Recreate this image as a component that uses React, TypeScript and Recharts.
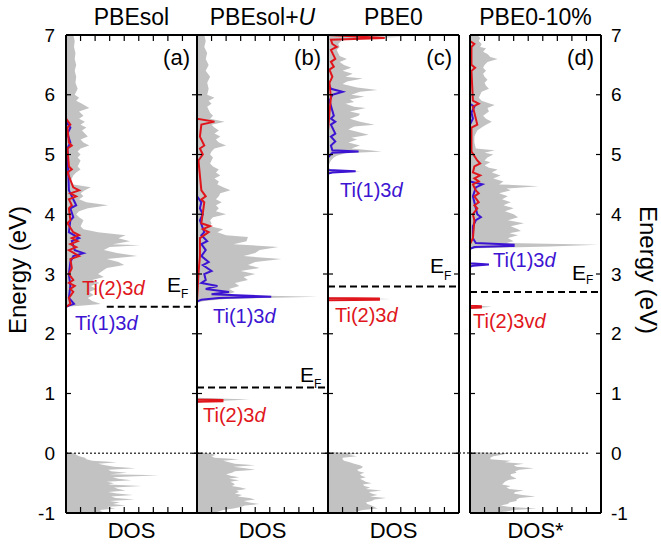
import React from 'react'
import { ComposedChart, Area, Line, XAxis, YAxis, ReferenceLine } from 'recharts'

type Pair = [number, number | null]

const ENERGY_TICKS = [-1, 0, 1, 2, 3, 4, 5, 6, 7]
const DOS_TICKS = [0, 1, 2, 3, 4, 5, 6, 7, 8, 9]

const TITLES = ['PBEsol', 'PBEsol+U', 'PBE0', 'PBE0-10%']
const LETTERS = ['(a)', '(b)', '(c)', '(d)']
const XLABELS = ['DOS', 'DOS', 'DOS', 'DOS*']
const FERMI = [2.45, 1.1, 2.79, 2.7]

// total DOS (grey), energy in eV vs DOS
const grayA: Pair[] = [
  [7.0, 0.5], [6.9, 0.6], [6.8, 0.55], [6.7, 0.65], [6.6, 0.6], [6.5, 0.7], [6.4, 0.6], [6.3, 0.7],
  [6.2, 0.65], [6.1, 0.8], [6.0, 0.6], [5.95, 0.9], [5.9, 0.7], [5.85, 1.1], [5.78, 1.6], [5.72, 0.9],
  [5.65, 1.2], [5.6, 0.9], [5.55, 1.3], [5.5, 1.0], [5.45, 1.4], [5.4, 1.1], [5.35, 1.3], [5.3, 1.5],
  [5.25, 1.0], [5.2, 1.2], [5.15, 1.6], [5.1, 1.0], [5.05, 0.8], [5.0, 1.0], [4.95, 0.8], [4.9, 1.0],
  [4.85, 0.9], [4.8, 0.8], [4.75, 1.0], [4.7, 0.7], [4.65, 0.5], [4.6, 0.4], [4.55, 0.3], [4.5, 0.5],
  [4.45, 1.7], [4.4, 1.3], [4.35, 1.0], [4.3, 1.2], [4.25, 0.9], [4.2, 1.4], [4.15, 2.9], [4.1, 1.5],
  [4.05, 0.9], [4.0, 0.7], [3.95, 0.9], [3.9, 1.2], [3.85, 1.1], [3.8, 1.0], [3.75, 1.2], [3.7, 2.2],
  [3.65, 4.1], [3.6, 3.6], [3.55, 4.4], [3.5, 3.2], [3.48, 5.1], [3.45, 3.0], [3.4, 2.6], [3.35, 3.5],
  [3.3, 4.9], [3.25, 2.8], [3.2, 3.6], [3.15, 4.0], [3.1, 2.8], [3.05, 2.5], [3.0, 2.2], [2.95, 2.6],
  [2.9, 1.8], [2.85, 2.3], [2.8, 1.7], [2.75, 2.1], [2.7, 1.6], [2.65, 1.9], [2.6, 1.5], [2.55, 1.8],
  [2.5, 2.4], [2.47, 1.0], [2.45, 0], [0.02, 0],
  [0, 0.6], [-0.025, 0.7], [-0.05, 0.9], [-0.075, 1.3], [-0.1, 1.4], [-0.125, 1.8], [-0.15, 3.5],
  [-0.175, 2.2], [-0.2, 2.7], [-0.225, 3.3], [-0.25, 4.8], [-0.275, 2.9], [-0.3, 3.1], [-0.325, 4.2],
  [-0.35, 3.0], [-0.37, 6.4], [-0.4, 3.2], [-0.425, 3.6], [-0.45, 4.5], [-0.475, 2.8], [-0.5, 3.3],
  [-0.525, 2.9], [-0.55, 5.2], [-0.575, 3.3], [-0.6, 3.6], [-0.625, 4.1], [-0.65, 2.9], [-0.675, 3.5],
  [-0.7, 4.6], [-0.725, 3.1], [-0.75, 3.4], [-0.775, 4.7], [-0.8, 3.0], [-0.825, 3.7], [-0.85, 3.2],
  [-0.875, 4.1], [-0.9, 2.8], [-0.925, 3.4], [-0.95, 2.3], [-0.975, 2.5], [-1.0, 2.0],
]
const grayB: Pair[] = [
  [7.0, 0.5], [6.9, 0.6], [6.8, 0.5], [6.7, 0.7], [6.6, 0.6], [6.5, 0.8], [6.4, 0.6], [6.3, 0.9],
  [6.2, 0.7], [6.1, 0.8], [6.0, 0.7], [5.95, 1.2], [5.9, 0.8], [5.85, 1.0], [5.8, 0.7], [5.7, 0.9],
  [5.65, 1.1], [5.6, 0.9], [5.55, 1.9], [5.5, 1.0], [5.45, 1.2], [5.4, 1.5], [5.35, 1.2], [5.3, 1.6],
  [5.25, 1.3], [5.2, 1.5], [5.15, 2.0], [5.1, 1.2], [5.05, 1.0], [5.0, 0.9], [4.95, 1.1], [4.9, 1.0],
  [4.85, 0.9], [4.8, 1.1], [4.75, 1.5], [4.7, 1.3], [4.65, 1.6], [4.6, 1.2], [4.55, 1.5], [4.5, 1.4],
  [4.45, 1.8], [4.4, 2.3], [4.35, 1.6], [4.3, 1.5], [4.25, 1.3], [4.2, 1.7], [4.15, 1.3], [4.1, 1.5],
  [4.05, 1.3], [4.0, 2.0], [3.95, 1.1], [3.9, 0.9], [3.85, 1.0], [3.8, 0.9], [3.75, 1.8], [3.7, 1.4],
  [3.65, 2.0], [3.62, 3.5], [3.55, 3.4], [3.5, 2.5], [3.45, 5.6], [3.4, 4.3], [3.35, 4.0], [3.3, 3.2],
  [3.25, 5.8], [3.2, 4.0], [3.15, 3.5], [3.1, 4.3], [3.05, 3.0], [3.0, 4.0], [2.95, 3.2], [2.9, 3.5],
  [2.85, 2.6], [2.8, 2.9], [2.75, 2.2], [2.7, 2.6], [2.65, 2.0], [2.62, 8.3], [2.58, 2.0], [2.55, 0.5],
  [2.52, 0], [0.93, 0], [0.9, 3.6], [0.86, 0.5], [0.84, 0], [0.02, 0],
  [0, 0.8], [-0.025, 1.3], [-0.05, 1.0], [-0.075, 1.2], [-0.1, 2.9], [-0.125, 1.8], [-0.15, 2.2],
  [-0.175, 2.6], [-0.2, 4.0], [-0.225, 2.5], [-0.25, 3.3], [-0.275, 4.0], [-0.3, 2.6], [-0.325, 2.4],
  [-0.35, 2.0], [-0.375, 2.3], [-0.4, 2.9], [-0.425, 2.2], [-0.45, 2.9], [-0.475, 2.3], [-0.5, 2.5],
  [-0.525, 2.6], [-0.55, 2.4], [-0.575, 3.0], [-0.6, 3.4], [-0.625, 2.7], [-0.65, 2.9], [-0.675, 2.6],
  [-0.7, 3.1], [-0.725, 2.8], [-0.75, 3.6], [-0.775, 4.0], [-0.8, 3.2], [-0.825, 3.6], [-0.85, 4.3],
  [-0.875, 3.3], [-0.9, 3.0], [-0.925, 2.5], [-0.95, 1.8], [-0.975, 1.5], [-1.0, 1.0],
]
const grayC: Pair[] = [
  [7.0, 0], [6.97, 5.3], [6.93, 0.9], [6.9, 0.9], [6.85, 0.7], [6.8, 0.8], [6.75, 0.6], [6.7, 0.7],
  [6.65, 0.8], [6.6, 1.3], [6.55, 0.8], [6.5, 1.1], [6.45, 1.6], [6.4, 1.0], [6.35, 1.7], [6.3, 1.2],
  [6.27, 2.4], [6.22, 1.3], [6.18, 1.0], [6.12, 2.0], [6.08, 3.4], [6.05, 2.2], [6.0, 1.6], [5.97, 2.5],
  [5.92, 1.5], [5.88, 1.8], [5.85, 1.2], [5.8, 1.8], [5.78, 2.6], [5.72, 1.5], [5.68, 2.2], [5.65, 2.1],
  [5.6, 1.5], [5.55, 2.2], [5.5, 3.2], [5.47, 1.8], [5.42, 1.4], [5.38, 2.0], [5.33, 2.8], [5.28, 1.6],
  [5.25, 2.0], [5.2, 1.4], [5.15, 2.2], [5.1, 1.6], [5.05, 3.7], [5.02, 1.2], [4.98, 0.6], [4.95, 0.4],
  [4.9, 0.2], [4.85, 0.1], [4.78, 0], [4.74, 0.3], [4.72, 2.3], [4.69, 0.3], [4.66, 0], [2.61, 0],
  [2.58, 4.3], [2.55, 0], [0.02, 0],
  [0, 2.3], [-0.025, 1.4], [-0.05, 2.0], [-0.075, 1.0], [-0.1, 1.0], [-0.125, 1.1], [-0.15, 1.5],
  [-0.175, 1.8], [-0.2, 2.2], [-0.225, 2.4], [-0.25, 2.3], [-0.275, 2.0], [-0.3, 2.1], [-0.325, 2.5],
  [-0.35, 2.2], [-0.375, 2.3], [-0.4, 2.6], [-0.425, 2.2], [-0.45, 2.4], [-0.475, 2.6], [-0.5, 3.0],
  [-0.525, 2.4], [-0.55, 2.5], [-0.575, 2.9], [-0.6, 2.6], [-0.625, 3.7], [-0.65, 2.8], [-0.675, 3.0],
  [-0.7, 3.4], [-0.725, 2.9], [-0.75, 4.0], [-0.775, 3.2], [-0.8, 3.0], [-0.825, 2.6], [-0.85, 2.7],
  [-0.875, 3.0], [-0.9, 3.2], [-0.925, 3.4], [-0.95, 2.4], [-0.975, 2.0], [-1.0, 1.2],
]
const grayD: Pair[] = [
  [7.0, 0.5], [6.95, 0.7], [6.9, 0.6], [6.85, 0.8], [6.8, 0.7], [6.78, 1.1], [6.72, 0.9], [6.68, 1.2],
  [6.63, 1.4], [6.6, 1.9], [6.55, 1.2], [6.5, 1.0], [6.45, 0.9], [6.4, 1.1], [6.35, 0.9], [6.3, 1.0],
  [6.25, 1.2], [6.2, 1.0], [6.15, 1.1], [6.1, 1.3], [6.05, 0.8], [6.0, 0.7], [5.95, 0.6], [5.9, 0.8],
  [5.85, 1.4], [5.83, 1.7], [5.78, 1.2], [5.72, 1.3], [5.65, 0.9], [5.6, 1.1], [5.55, 1.5], [5.5, 1.1],
  [5.45, 0.8], [5.4, 0.5], [5.35, 0.4], [5.3, 0.3], [5.2, 0.3], [5.1, 0.4], [5.07, 1.7], [5.03, 1.0],
  [5.0, 1.6], [4.95, 1.2], [4.9, 1.0], [4.87, 1.4], [4.82, 1.0], [4.78, 1.3], [4.75, 1.9], [4.7, 1.5],
  [4.65, 2.1], [4.6, 1.6], [4.55, 2.3], [4.5, 2.0], [4.47, 4.7], [4.43, 2.5], [4.4, 2.8], [4.35, 2.0],
  [4.3, 2.6], [4.25, 2.2], [4.2, 2.8], [4.15, 2.3], [4.1, 3.0], [4.05, 2.4], [4.0, 3.0], [3.95, 3.3],
  [3.9, 2.6], [3.85, 3.7], [3.8, 2.8], [3.75, 3.3], [3.72, 3.5], [3.68, 2.7], [3.65, 3.3], [3.6, 2.6],
  [3.55, 3.0], [3.52, 2.5], [3.49, 8.8], [3.46, 5.5], [3.43, 0.5], [3.41, 0], [3.19, 0], [3.15, 1.0],
  [3.12, 0], [2.48, 0], [2.45, 1.5], [2.42, 0], [0.02, 0],
  [0, 2.6], [-0.025, 2.2], [-0.05, 1.6], [-0.075, 1.4], [-0.1, 1.4], [-0.125, 2.8], [-0.15, 2.4],
  [-0.175, 3.7], [-0.2, 3.0], [-0.225, 3.2], [-0.25, 4.4], [-0.275, 3.4], [-0.3, 3.1], [-0.325, 3.2],
  [-0.35, 2.8], [-0.375, 2.8], [-0.4, 3.0], [-0.425, 3.2], [-0.45, 2.6], [-0.475, 2.4], [-0.5, 2.3],
  [-0.525, 2.2], [-0.55, 2.8], [-0.575, 2.5], [-0.6, 2.7], [-0.625, 3.7], [-0.65, 3.1], [-0.675, 3.0],
  [-0.7, 3.6], [-0.725, 4.5], [-0.75, 3.4], [-0.775, 3.2], [-0.8, 3.2], [-0.825, 2.7], [-0.85, 2.6],
  [-0.875, 2.1], [-0.9, 2.8], [-0.925, 4.6], [-0.95, 3.0], [-0.975, 2.5], [-1.0, 1.5],
]

// Ti(2)3d projected DOS (red)
const redA: Pair[] = [
  [5.6, 0], [5.5, 0.3], [5.45, 0.1], [5.2, 0.2], [5.15, 0.4], [5.1, 0.1], [4.8, 0.2], [4.75, 0.4],
  [4.7, 0.1], [4.45, 0.5], [4.4, 0.9], [4.35, 0.3], [4.3, 0.7], [4.25, 0.2], [4.15, 0.4], [4.1, 0.2],
  [3.9, 0.3], [3.85, 0.1], [3.7, 0.5], [3.65, 0.9], [3.6, 0.4], [3.55, 0.8], [3.5, 0.3], [3.45, 0.7],
  [3.4, 0.2], [3.3, 0.9], [3.25, 0.3], [3.1, 0.4], [3.0, 0.2], [2.9, 0.5], [2.85, 0.2], [2.8, 0.6],
  [2.75, 0.3], [2.7, 0.5], [2.6, 0.2], [2.5, 0.3], [2.45, 0],
]
const redB: Pair[] = [
  [5.6, 0], [5.55, 1.2], [5.5, 0.3], [5.3, 0.2], [5.15, 0.5], [5.1, 0.2], [5.0, 0.4], [4.9, 0.1],
  [4.4, 0.3], [4.3, 0.6], [4.25, 0.3], [4.2, 0.5], [3.85, 0.3], [3.8, 0.9], [3.75, 0.4], [3.7, 0.8],
  [3.6, 0.2], [3.3, 0.2], [3.0, 0.1], [2.55, 0], [1.5, null], [0.9, 0], [0.89, 1.75], [0.87, 1.75],
  [0.86, 0],
]
const redC: Pair[] = [
  [7.0, 0], [6.95, 3.9], [6.92, 0.2], [6.85, 0.3], [6.8, 0.6], [6.75, 0.2], [6.65, 0.4], [6.6, 0.5],
  [6.55, 0.2], [6.47, 0.4], [6.42, 0.1], [6.3, 0.3], [6.2, 0.1], [5.95, 0.2], [5.7, 0.1], [5.4, 0],
  [4.0, null], [2.6, 0], [2.59, 3.5], [2.57, 3.5], [2.56, 0],
]
const redD: Pair[] = [
  [6.9, 0], [6.85, 0.3], [6.8, 0.1], [6.5, 0.1], [6.45, 0.35], [6.4, 0.1], [5.9, 0.2], [5.85, 0.6],
  [5.8, 0.2], [5.5, 0.5], [5.45, 0.1], [5.05, 0.1], [4.9, 0.5], [4.85, 0.7], [4.8, 0.3], [4.7, 0.2],
  [4.65, 0.7], [4.6, 0.3], [4.55, 0.6], [4.5, 0.2], [4.4, 0.4], [4.35, 0.6], [4.3, 0.3], [4.2, 0.6],
  [4.15, 0.3], [4.1, 0.5], [4.0, 0.2], [3.9, 0.3], [3.6, 0.2], [3.5, 0], [3.0, null], [2.47, 0],
  [2.46, 0.75], [2.44, 0.75], [2.43, 0],
]

// Ti(1)3d projected DOS (blue)
const blueA: Pair[] = [
  [5.55, 0], [5.45, 0.3], [5.35, 0.1], [5.2, 0.3], [5.1, 0.1], [4.4, 0.2], [4.2, 0.6], [4.15, 0.7],
  [4.1, 0.3], [3.95, 0.5], [3.9, 0.3], [3.7, 0.2], [3.6, 0.9], [3.55, 0.4], [3.4, 0.6], [3.35, 1.2],
  [3.3, 0.5], [3.2, 0.3], [3.0, 0.2], [2.8, 0.3], [2.6, 0.2], [2.5, 0.55], [2.47, 0.2], [2.45, 0],
]
const blueB: Pair[] = [
  [4.3, 0], [4.2, 0.3], [4.1, 0.2], [4.0, 0.4], [3.9, 0.2], [3.7, 0.5], [3.65, 0.3], [3.55, 0.7],
  [3.5, 0.3], [3.4, 0.6], [3.3, 0.3], [3.2, 0.8], [3.15, 0.4], [3.05, 1.0], [3.0, 0.5], [2.9, 0.6],
  [2.85, 0.3], [2.8, 1.4], [2.75, 0.6], [2.7, 2.2], [2.66, 1.0], [2.62, 5.1], [2.6, 1.5], [2.57, 0.3],
  [2.54, 0],
]
const blueC: Pair[] = [
  [6.2, 0], [6.1, 0.2], [6.05, 1.0], [6.0, 0.3], [5.9, 0.1], [5.65, 0.4], [5.6, 0.2], [5.55, 0.5],
  [5.5, 0.2], [5.35, 0.5], [5.3, 0.2], [5.22, 0.5], [5.15, 0.2], [5.07, 0.3], [5.05, 2.1], [5.03, 0.3],
  [4.95, 0], [4.74, 0], [4.72, 1.9], [4.7, 0.3], [4.68, 0],
]
const blueD: Pair[] = [
  [5.85, 0], [5.8, 0.3], [5.7, 0.1], [5.6, 0.2], [5.5, 0], [4.55, 0], [4.5, 0.85], [4.45, 0.4],
  [4.3, 0.2], [4.0, 0.5], [3.95, 0.75], [3.9, 0.4], [3.8, 0.2], [3.6, 0.2], [3.52, 0.4], [3.49, 3.0],
  [3.47, 3.0], [3.45, 0.3], [3.42, 0], [3.18, 0], [3.16, 1.3], [3.14, 0.2], [3.12, 0],
]

const GRAYS = [grayA, grayB, grayC, grayD]
const REDS = [redA, redB, redC, redD]
const BLUES = [blueA, blueB, blueC, blueD]

const FONT = '"Liberation Sans", Arial, sans-serif'
const GREY = '#c2c2c2'
const RED = '#e0161c'
const BLUE = '#3c14d2'

const PANEL_LEFT = [66, 197, 328, 470]
const PANEL_W = 131
const PANEL_H = 478
const TOP = 35
const AXW = 40
const AXH = 10

const toPts = (arr: Pair[]) => arr.map(([e, v]) => ({ e, v }))
const blank = () => ''

function Panel({ i }: { i: number }) {
  const showLeft = i === 0
  const showRight = i === 3
  const axisLine = { stroke: '#000', strokeWidth: 2 }
  const tickLine = { stroke: '#000', strokeWidth: 1.2 }
  const efFrom = i === 0 ? 2.8 : 0
  const zeroTo = i === 3 ? 8.2 : 9
  return (
    <div style={{ position: 'absolute', left: PANEL_LEFT[i] - AXW, top: TOP - AXH }}>
      <ComposedChart
        width={PANEL_W + 2 * AXW}
        height={PANEL_H + 2 * AXH}
        layout="vertical"
        margin={{ top: 0, right: 0, bottom: 0, left: 0 }}
      >
        <XAxis xAxisId="b" type="number" orientation="bottom" domain={[0, 9]} ticks={DOS_TICKS} interval={0}
          height={AXH} tickSize={-6} tickFormatter={blank} axisLine={axisLine} tickLine={tickLine} allowDataOverflow />
        <XAxis xAxisId="t" type="number" orientation="top" domain={[0, 9]} ticks={DOS_TICKS} interval={0}
          height={AXH} tickSize={-6} tickFormatter={blank} axisLine={axisLine} tickLine={tickLine} allowDataOverflow />
        <YAxis yAxisId="l" type="number" dataKey="e" domain={[-1, 7]} ticks={ENERGY_TICKS} width={AXW} reversed
          interval={0} tickSize={-5} tickMargin={16} tickFormatter={showLeft ? undefined : blank}
          tick={{ fill: '#000', fontSize: 19, fontFamily: FONT }} axisLine={axisLine} tickLine={tickLine} allowDataOverflow />
        <YAxis yAxisId="r" type="number" dataKey="e" orientation="right" domain={[-1, 7]} ticks={ENERGY_TICKS} reversed
          interval={0} width={AXW} tickSize={-5} tickMargin={15} tickFormatter={showRight ? undefined : blank}
          tick={{ fill: '#000', fontSize: 19, fontFamily: FONT }} axisLine={axisLine} tickLine={tickLine} allowDataOverflow />
        <Area xAxisId="b" yAxisId="l" data={toPts(GRAYS[i])} dataKey="v" type="linear" fill={GREY}
          fillOpacity={1} stroke="none" isAnimationActive={false} />
        <Line xAxisId="t" yAxisId="r" data={toPts(GRAYS[i])} dataKey="v" stroke="none" dot={false}
          isAnimationActive={false} />
        <ReferenceLine xAxisId="b" yAxisId="l" segment={[{ x: 0, y: 0 }, { x: zeroTo, y: 0 }]}
          stroke="#444" strokeWidth={1.5} strokeDasharray="2 2" />
        <Line xAxisId="b" yAxisId="l" data={toPts(BLUES[i])} dataKey="v" type="linear" stroke={BLUE}
          strokeWidth={2} dot={false} isAnimationActive={false} />
        <Line xAxisId="b" yAxisId="l" data={toPts(REDS[i])} dataKey="v" type="linear" stroke={RED}
          strokeWidth={2} dot={false} isAnimationActive={false} />
        <ReferenceLine xAxisId="b" yAxisId="l" segment={[{ x: efFrom, y: FERMI[i] }, { x: 9, y: FERMI[i] }]}
          stroke="#000" strokeWidth={2} strokeDasharray="7 4" />
      </ComposedChart>
    </div>
  )
}

function Ef({ x, y, fy }: { x: number; y: number; fy: number }) {
  return (
    <>
      <text x={x} y={y} fontSize={21}>E</text>
      <text x={x + 14} y={fy} fontSize={12}>F</text>
    </>
  )
}

export default function App() {
  const centers = PANEL_LEFT.map((l) => l + PANEL_W / 2)
  return (
    <div style={{ position: 'absolute', left: 0, top: 0, width: 661, height: 547, background: '#fff', fontFamily: FONT }}>
      {[0, 1, 2, 3].map((i) => (
        <Panel key={i} i={i} />
      ))}
      <svg width={661} height={547} style={{ position: 'absolute', left: 0, top: 0, pointerEvents: 'none' }}
        fontFamily={FONT}>
        {TITLES.map((t, i) => (
          <text key={t} x={centers[i]} y={25} fontSize={23} textAnchor="middle">
            {i === 1 ? (
              <>
                PBEsol+<tspan fontStyle="italic">U</tspan>
              </>
            ) : t}
          </text>
        ))}
        {XLABELS.map((t, i) => (
          <text key={i} x={centers[i]} y={538} fontSize={22} textAnchor="middle">{t}</text>
        ))}
        {LETTERS.map((t, i) => (
          <text key={t} x={PANEL_LEFT[i] + PANEL_W - 7} y={65} fontSize={22} textAnchor="end">{t}</text>
        ))}
        <text transform="translate(26,270) rotate(-90)" fontSize={24} textAnchor="middle">Energy (eV)</text>
        <text transform="translate(640,270) rotate(90)" fontSize={24} textAnchor="middle">Energy (eV)</text>
        <line x1={459} x2={470} y1={453} y2={453} stroke="#444" strokeWidth={1.5} strokeDasharray="2 2" />

        <text x={82} y={295} fontSize={20} fill={RED}>Ti(2)3<tspan fontStyle="italic">d</tspan></text>
        <text x={75} y={330} fontSize={20} fill={BLUE}>Ti(1)3<tspan fontStyle="italic">d</tspan></text>
        <Ef x={167} y={292} fy={298} />

        <text x={213} y={323} fontSize={20} fill={BLUE}>Ti(1)3<tspan fontStyle="italic">d</tspan></text>
        <text x={203} y={422} fontSize={20} fill={RED}>Ti(2)3<tspan fontStyle="italic">d</tspan></text>
        <Ef x={300} y={382} fy={388} />

        <text x={340} y={197} fontSize={20} fill={BLUE}>Ti(1)3<tspan fontStyle="italic">d</tspan></text>
        <text x={335} y={322} fontSize={20} fill={RED}>Ti(2)3<tspan fontStyle="italic">d</tspan></text>
        <Ef x={430} y={273} fy={280} />

        <text x={493} y={267} fontSize={20} fill={BLUE}>Ti(1)3<tspan fontStyle="italic">d</tspan></text>
        <text x={473} y={328} fontSize={20} fill={RED}>Ti(2)3v<tspan fontStyle="italic">d</tspan></text>
        <Ef x={572} y={280} fy={284} />
      </svg>
    </div>
  )
}
